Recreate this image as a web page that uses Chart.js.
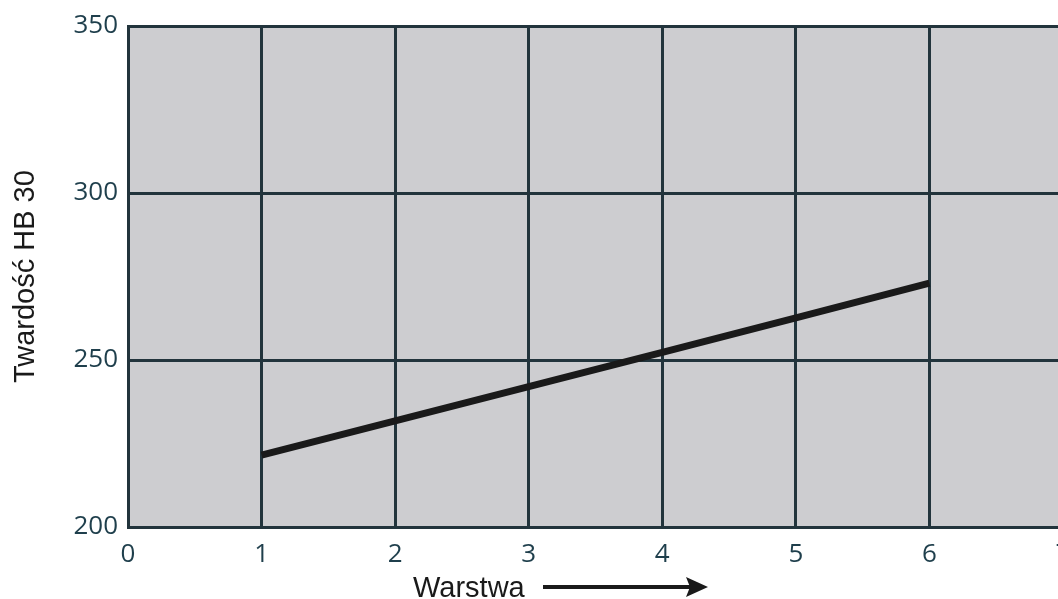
<!DOCTYPE html>
<html>
<head>
<meta charset="utf-8">
<script src="https://cdn.jsdelivr.net/npm/chart.js@4"></script>
<style>
html,body{margin:0;padding:0;background:#fff;overflow:hidden;}
#wrap{position:absolute;left:0;top:0;width:1075px;height:599px;}
</style>
</head>
<body>
<div id="wrap"><canvas id="c" width="1075" height="599"></canvas></div>
<script>
// Data
const layers = [1, 2, 3, 4, 5, 6];
const hardness = [221.5, 231.8, 242, 252.3, 262.6, 273];
const yTicks = [200, 250, 300, 350];
const xTicks = [0, 1, 2, 3, 4, 5, 6, 7];
const yTitle = 'Twardość HB 30';
const xTitle = 'Warstwa';

const gridColor = '#22343c';
const tickColor = '#1f3f4c';

const bgPlugin = {
  id: 'bg',
  beforeDraw(chart) {
    const {ctx, chartArea: a} = chart;
    ctx.save();
    ctx.fillStyle = '#cdcdd0';
    ctx.fillRect(a.left, a.top, a.right - a.left, a.bottom - a.top);
    ctx.restore();
  },
  afterDraw(chart) {
    const {ctx} = chart;
    ctx.save();
    // white label box under the x title
    ctx.fillStyle = '#ffffff';
    ctx.fillRect(393, 565, 136, 34);
    ctx.fillStyle = '#1a1a1a';
    ctx.font = '29px "Liberation Sans", Arial, sans-serif';
    ctx.textBaseline = 'alphabetic';
    ctx.textAlign = 'left';
    ctx.fillText(xTitle, 413, 597);
    // arrow
    ctx.strokeStyle = '#1a1a1a';
    ctx.lineWidth = 4;
    ctx.beginPath();
    ctx.moveTo(543, 587);
    ctx.lineTo(690, 587);
    ctx.stroke();
    ctx.beginPath();
    ctx.moveTo(708, 587);
    ctx.lineTo(686, 577);
    ctx.lineTo(690, 587);
    ctx.lineTo(686, 597);
    ctx.closePath();
    ctx.fill();
    ctx.restore();
  }
};

new Chart(document.getElementById('c'), {
  type: 'line',
  data: {
    datasets: [{
      data: layers.map((x, i) => ({x: x, y: hardness[i]})),
      borderColor: '#1a1a1a',
      borderWidth: 7,
      borderCapStyle: 'butt',
      pointRadius: 0,
      tension: 0,
      fill: false
    }]
  },
  options: {
    responsive: false,
    animation: false,
    devicePixelRatio: 1,
    layout: {padding: {left: 0, right: 12, top: 26, bottom: 0}},
    plugins: {legend: {display: false}, tooltip: {enabled: false}},
    scales: {
      x: {
        type: 'linear',
        min: xTicks[0],
        max: xTicks[xTicks.length - 1],
        afterBuildTicks(scale) { scale.ticks = xTicks.map(v => ({value: v})); },
        afterFit(scale) {
          scale.height = 599 - 527;
          scale.paddingLeft = 0;
          scale.paddingRight = 0;
        },
        grid: {color: gridColor, lineWidth: 3, drawTicks: false},
        border: {display: true, color: gridColor, width: 3},
        ticks: {
          color: tickColor,
          padding: 12,
          font: {family: '"Open Sans", sans-serif', size: 26},
          maxRotation: 0,
          autoSkip: false
        }
      },
      y: {
        type: 'linear',
        min: yTicks[0],
        max: yTicks[yTicks.length - 1],
        afterBuildTicks(scale) { scale.ticks = yTicks.map(v => ({value: v})); },
        afterFit(scale) {
          scale.width = 128;
          scale.paddingTop = 0;
          scale.paddingBottom = 0;
        },
        grid: {color: gridColor, lineWidth: 3, drawTicks: false},
        border: {display: true, color: gridColor, width: 3},
        ticks: {
          color: tickColor,
          padding: 10,
          font: {family: '"Open Sans", sans-serif', size: 26}
        },
        title: {
          display: true,
          text: yTitle,
          color: '#1a1a1a',
          font: {family: '"Liberation Sans", Arial, sans-serif', size: 29},
          padding: {top: 9, bottom: 0}
        }
      }
    }
  },
  plugins: [bgPlugin]
});
</script>
</body>
</html>
